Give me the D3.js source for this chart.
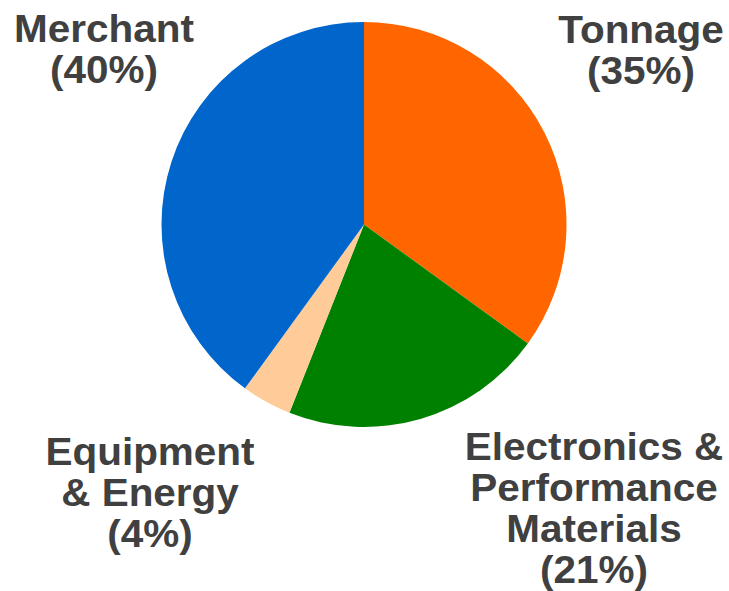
<html>
<head>
	<meta charset="utf-8">
	<script src="https://d3js.org/d3.v7.min.js"></script>
	<style>
		body { margin: 0; background: #fff; }
		text { font-family: "Liberation Sans", Arial, sans-serif; font-weight: bold; fill: #404040; }
	</style>
</head>
<body>
	<script type="text/javascript">
		var width = 729
		var height = 591

		// segments, clockwise from 12 o'clock
		var segments = ["Tonnage", "Electronics & Performance Materials", "Equipment & Energy", "Merchant"]
		var shares = [35, 21, 4, 40]
		var colors = ["#FF6600", "#008000", "#FFCC99", "#0066CC"]
		// label lines as printed on the chart
		var labelLines = [
			["Tonnage", "(35%)"],
			["Electronics &", "Performance", "Materials", "(21%)"],
			["Equipment", "& Energy", "(4%)"],
			["Merchant", "(40%)"]
		]
		// label anchor (centre x, first baseline y)
		var labelPos = [[641, 43], [594, 460], [150, 465], [104, 42]]

		var data = segments.map((s, i) => ({name: s, value: shares[i], color: colors[i], lines: labelLines[i], pos: labelPos[i]}))

		var svg = d3.select("body").append("svg")
		  .attr("width", width)
		  .attr("height", height)

		var cx = 364, cy = 224.5, r = 202.5

		var pie = d3.pie().sort(null).value(d => d.value)
		var arc = d3.arc().innerRadius(0).outerRadius(r)

		var g = svg.append("g").attr("transform", "translate(" + cx + "," + cy + ")")
		g.selectAll("path")
		  .data(pie(data))
		  .enter()
		  .append("path")
			.attr("d", arc)
			.attr("fill", d => d.data.color)

		// the labels in the original are a bit wider than plain Arial
		var lh = 41
		var labels = svg.selectAll("g.lbl")
		  .data(data)
		  .enter()
		  .append("g")
			.attr("class", "lbl")
			.attr("transform", d => "translate(" + d.pos[0] + ",0) scale(1.065,1)")
		  .append("text")
			.attr("text-anchor", "middle")
			.attr("font-size", 38)
		labels.each(function(d) {
			var t = d3.select(this)
			d.lines.forEach((line, i) => {
				t.append("tspan")
				  .attr("x", 0)
				  .attr("y", d.pos[1] + i * lh)
				  .text(line)
			})
		})
	</script>
</body>
</html>
